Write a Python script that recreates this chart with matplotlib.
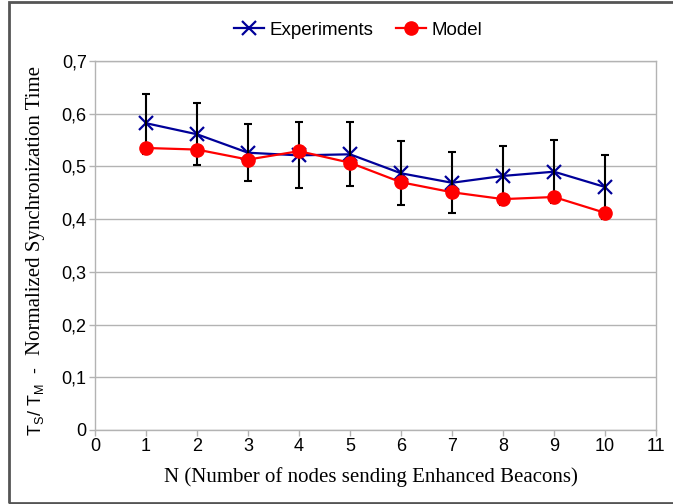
import matplotlib.pyplot as plt
from matplotlib.patches import Rectangle

plt.rcParams["font.family"] = ["Liberation Sans", "DejaVu Sans"]
plt.rcParams["mathtext.fontset"] = "custom"
plt.rcParams["mathtext.rm"] = "Liberation Sans"

# data
n_nodes = [1, 2, 3, 4, 5, 6, 7, 8, 9, 10]
experiments = [0.582, 0.561, 0.526, 0.521, 0.523, 0.487, 0.469, 0.482, 0.490, 0.461]
err_low = [0.058, 0.058, 0.053, 0.061, 0.060, 0.061, 0.057, 0.055, 0.059, 0.060]
err_high = [0.056, 0.059, 0.054, 0.063, 0.061, 0.061, 0.058, 0.057, 0.060, 0.061]
model = [0.535, 0.532, 0.513, 0.529, 0.507, 0.470, 0.451, 0.438, 0.442, 0.412]

x_ticks = list(range(0, 12))
y_ticks = [0, 0.1, 0.2, 0.3, 0.4, 0.5, 0.6, 0.7]
y_tick_labels = ["0", "0,1", "0,2", "0,3", "0,4", "0,5", "0,6", "0,7"]

fig = plt.figure(figsize=(6.73, 5.04), dpi=100)
ax = fig.add_axes([95 / 673, 1 - 430 / 504, (656 - 95) / 673, (430 - 61) / 504])

grey = "#b3b3b3"
ax.set_xlim(0, 11)
ax.set_ylim(0, 0.7)
ax.set_xticks(x_ticks)
ax.set_yticks(y_ticks)
ax.set_yticklabels(y_tick_labels)
ax.yaxis.grid(True, color=grey, lw=1)
ax.set_axisbelow(True)
for s in ax.spines.values():
    s.set_color(grey)
    s.set_linewidth(1)
ax.tick_params(colors=grey, labelcolor="black", labelsize=13, length=4, width=1,
               pad=2)

ax.plot(n_nodes, experiments, color="#000099", lw=1.6, marker="x", ms=10,
        mew=1.6, label="Experiments", zorder=2)
ax.errorbar(n_nodes, experiments, yerr=[err_low, err_high], fmt="none",
            ecolor="black", elinewidth=1.5, capsize=3, capthick=1.5, zorder=3)
ax.plot(n_nodes, model, color="#ff0000", lw=1.6, marker="o", ms=9.5,
        label="Model", zorder=4)

ax.legend(loc="center", bbox_to_anchor=(0.469, 1 + 31 / 369), ncol=2,
          frameon=False, fontsize=13.5, handlelength=1.6, columnspacing=1.2,
          handletextpad=0.3)

ax.set_xlabel("N (Number of nodes sending Enhanced Beacons)",
              family="Liberation Serif", fontsize=15)
ax.xaxis.set_label_coords((371 - 95) / 561, -(467 - 430) / 369)

# y label: sans part with subscripts, serif part
fig.text(36 / 673, 1 - 398 / 504, r"$\mathrm{T_S}$/ $\mathrm{T_M}$  -  ",
         rotation=90, ha="center", va="center", fontsize=13)
fig.text(36 / 673, 1 - 210 / 504, "Normalized Synchronization Time",
         rotation=90, ha="center", va="center", fontsize=15,
         family="Liberation Serif")

# outer frame
fig.patches.append(Rectangle((9 / 673, 1 / 504), 1.0, 1 - 3 / 504,
                             transform=fig.transFigure, fill=False,
                             edgecolor="#555555", lw=2, clip_on=False))

fig.savefig("out.png", dpi=100)
